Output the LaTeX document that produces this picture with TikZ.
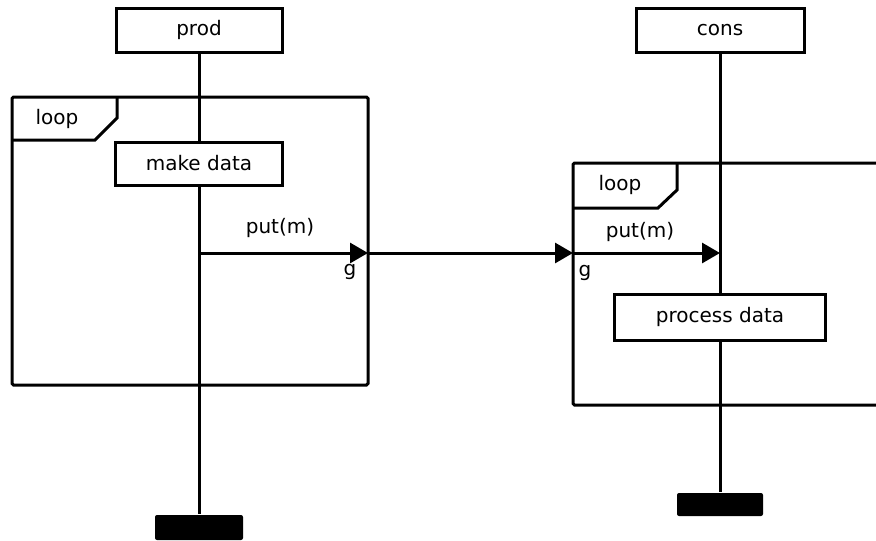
\documentclass[tikz,border=0pt]{standalone}
\usepackage{fontspec}
\setmainfont{DejaVu Sans}
\usetikzlibrary{arrows.meta}
\begin{document}
\begin{tikzpicture}[x=1pt,y=-1pt, line width=3pt,
  box/.style={draw, line width=3pt, minimum height=44pt, inner sep=0pt, font=\fontsize{20}{20}\selectfont},
  stopbar/.style={fill=black, rounded corners=2pt, inner sep=0pt},
  msg/.style={-{Triangle[length=18pt,width=20pt]}, line width=3pt},
  lbl/.style={font=\fontsize{20}{20}\selectfont, inner sep=0pt}]
\useasboundingbox (0,0) rectangle (876,541);
% lifeline heads
\node[box, minimum width=166pt] (prod) at (199,30) {prod};
\node[box, minimum width=168pt] (cons) at (720,30) {cons};
% activities
\node[box, minimum width=167pt, minimum height=43pt] (make) at (199,163.5) {make data};
\node[box, minimum width=211pt, minimum height=46pt] (proc) at (720,317) {process data};
% stop bars
\node[stopbar, minimum width=88pt, minimum height=25pt] (end1) at (199,527.5) {};
\node[stopbar, minimum width=86pt, minimum height=23pt] (end2) at (720,504.5) {};
% left loop frame
\draw[rounded corners=1.5pt] (12,97) rectangle (368,385);
\draw (12,140) -- (95,140) -- (117,118) -- (117,97);
\node[lbl] (loop1) at (57,119) {loop};
% right loop frame
\draw[rounded corners=1.5pt] (890,163) -- (573,163) -- (573,405) -- (890,405);
\draw (573,208) -- (658,208) -- (677,190) -- (677,163);
\node[lbl] (loop2) at (620,185) {loop};
% lifelines
\draw (prod.south) -- (make.north);
\draw (make.south) -- (end1.north);
\draw (cons.south) -- (proc.north);
\draw (proc.south) -- (end2.north);
% messages
\coordinate (s1) at (199,253);
\coordinate (g1) at (368,253);
\coordinate (g2) at (573,253);
\coordinate (r1) at (720,253);
\draw[msg] (s1) -- (g1);
\draw[msg] (g1) -- (g2);
\draw[msg] (g2) -- (r1);
\node[lbl] (m1) at (280,228) {put(m)};
\node[lbl] (gl1) at (350,272) {g};
\node[lbl] (m2) at (640,232) {put(m)};
\node[lbl] (gl2) at (585,273) {g};
\end{tikzpicture}
\end{document}
